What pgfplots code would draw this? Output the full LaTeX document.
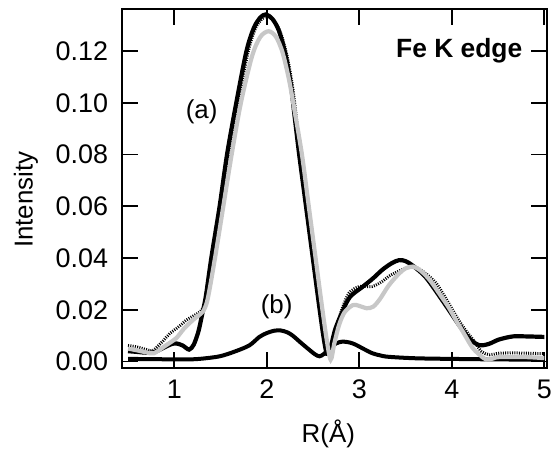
\documentclass[border=0pt]{standalone}
\usepackage{fontspec}
\setmainfont{Liberation Sans}
\usepackage{pgfplots}
\pgfplotsset{compat=1.18}
\definecolor{lgray}{gray}{0.78}
\begin{document}
\fontsize{26}{31}\selectfont
\begin{tikzpicture}
\path[use as bounding box] (-122.3bp,-82bp) rectangle (429.7bp,367.7bp);
\begin{axis}[at={(0,0)}, anchor=south west, scale only axis,
  width=425bp, height=358.7bp,
  xmin=0.438, xmax=5.032, ymin=-0.0024, ymax=0.1363,
  xtick={1,2,3,4,5},
  ytick={0,0.02,0.04,0.06,0.08,0.10,0.12},
  scaled y ticks=false,
  yticklabel style={/pgf/number format/fixed, /pgf/number format/fixed zerofill, /pgf/number format/precision=2, anchor=east, inner sep=0pt, xshift=-14bp},
  xticklabel style={anchor=base, yshift=-31bp},
  /pgf/number format/assume math mode=true,
  tick label style={font=\fontsize{27}{32}\selectfont},
  label style={font=\fontsize{26}{31}\selectfont},
  major tick length=16bp,
  every tick/.style={black, line width=1.7bp},
  axis line style={line width=1.7bp},
  xlabel={R(Å)}, ylabel={Intensity},
  xlabel style={at={(axis description cs:0.4847,0)}, anchor=base, yshift=-74.7bp},
  ylabel style={at={(axis description cs:-0.211,0.4684)}, anchor=base, rotate=0},
]
% (b)
\addplot[black, line width=4bp, smooth] coordinates {
(0.50,0.0010) (0.80,0.0009) (1.00,0.0008) (1.16,0.0008) (1.30,0.0011) (1.49,0.0020)
(1.65,0.0038) (1.81,0.0062) (1.92,0.0095) (2.00,0.0110) (2.08,0.0119) (2.15,0.0120)
(2.22,0.0113) (2.28,0.0100) (2.37,0.0072) (2.46,0.0045) (2.52,0.0028) (2.57,0.0020)
(2.62,0.0030) (2.68,0.0052) (2.75,0.0070) (2.82,0.0077) (2.90,0.0073) (2.96,0.0065)
(3.05,0.0048) (3.14,0.0032) (3.22,0.0024) (3.29,0.0019) (3.45,0.0015) (3.65,0.0012)
(4.00,0.0010) (4.50,0.0008) (5.00,0.0007)};
% (a) black solid
\addplot[black, line width=4.2bp, smooth] coordinates {
(0.50,0.0040) (0.60,0.0037) (0.70,0.0034) (0.78,0.0036) (0.88,0.0052) (0.96,0.0066)
(1.02,0.0070) (1.09,0.0062) (1.16,0.0046) (1.21,0.0065) (1.26,0.0115) (1.30,0.0180)
(1.34,0.0250) (1.40,0.0400) (1.49,0.0600) (1.57,0.0800) (1.67,0.1000) (1.78,0.1200)
(1.86,0.1290) (1.93,0.1330) (1.99,0.1342) (2.06,0.1325) (2.13,0.1280) (2.20,0.1190)
(2.26,0.1070) (2.30,0.0950) (2.35,0.0800) (2.42,0.0610) (2.49,0.0420) (2.56,0.0230)
(2.615,0.0090) (2.65,0.0030) (2.69,0.0055) (2.74,0.0125) (2.82,0.0195) (2.90,0.0250)
(3.04,0.0290) (3.15,0.0322) (3.25,0.0355) (3.35,0.0380) (3.43,0.0392) (3.50,0.0388)
(3.58,0.0370) (3.72,0.0325) (3.90,0.0235) (4.08,0.0140) (4.20,0.0085) (4.30,0.0063)
(4.40,0.0068) (4.51,0.0085) (4.66,0.0097) (4.80,0.0097) (5.00,0.0095)};
% dotted
\addplot[black, line width=3bp, dash pattern=on 1bp off 1.3bp, smooth] coordinates {
(0.50,0.0062) (0.60,0.0056) (0.70,0.0046) (0.77,0.0043) (0.88,0.0080) (0.95,0.0108)
(1.05,0.0135) (1.13,0.0160) (1.20,0.0175) (1.27,0.0190) (1.32,0.0215) (1.37,0.0300)
(1.42,0.0400) (1.51,0.0600) (1.59,0.0800) (1.69,0.1000) (1.80,0.1200) (1.88,0.1290)
(1.95,0.1325) (2.01,0.1335) (2.08,0.1315) (2.15,0.1270) (2.22,0.1180) (2.28,0.1060)
(2.32,0.0940) (2.36,0.0800) (2.43,0.0610) (2.50,0.0420) (2.57,0.0230) (2.625,0.0090)
(2.66,0.0030) (2.70,0.0060) (2.75,0.0130) (2.82,0.0210) (2.89,0.0265) (3.00,0.0290)
(3.14,0.0290) (3.25,0.0310) (3.32,0.0330) (3.42,0.0348) (3.50,0.0360) (3.60,0.0365)
(3.70,0.0345) (3.83,0.0303) (3.95,0.0235) (4.05,0.0174) (4.14,0.0125) (4.23,0.0084)
(4.32,0.0039) (4.41,0.0026) (4.51,0.0032) (4.70,0.0033) (5.00,0.0030)};
% gray
\addplot[lgray, line width=4.2bp, smooth] coordinates {
(0.50,0.0050) (0.60,0.0043) (0.70,0.0035) (0.78,0.0032) (0.90,0.0060) (1.02,0.0090)
(1.10,0.0125) (1.20,0.0160) (1.27,0.0180) (1.31,0.0193) (1.36,0.0240) (1.44,0.0400)
(1.53,0.0600) (1.62,0.0800) (1.72,0.1000) (1.84,0.1180) (1.93,0.1255) (2.02,0.1277)
(2.10,0.1255) (2.17,0.1195) (2.24,0.1090) (2.30,0.0970) (2.38,0.0800) (2.45,0.0610)
(2.52,0.0420) (2.59,0.0230) (2.645,0.0090) (2.69,0.0007) (2.73,0.0070) (2.78,0.0140)
(2.84,0.0190) (2.93,0.0218) (3.00,0.0215) (3.08,0.0206) (3.15,0.0212) (3.22,0.0240)
(3.32,0.0295) (3.43,0.0340) (3.50,0.0360) (3.58,0.0367) (3.66,0.0352) (3.76,0.0316)
(3.87,0.0260) (3.97,0.0207) (4.06,0.0150) (4.12,0.0115) (4.22,0.0055) (4.30,0.0026)
(4.37,0.0008) (4.45,0.0012) (4.51,0.0017) (4.80,0.0017) (5.00,0.0013)};
\node[font=\fontsize{26}{31}\selectfont] at (axis cs:1.296,0.0967) {(a)};
\node[font=\fontsize{26}{31}\selectfont] at (axis cs:2.107,0.0213) {(b)};
\node[font=\fontsize{26.5}{31}\selectfont\bfseries, anchor=base] at (axis cs:4.08,0.1174) {Fe K edge};
\end{axis}
\end{tikzpicture}
\end{document}
